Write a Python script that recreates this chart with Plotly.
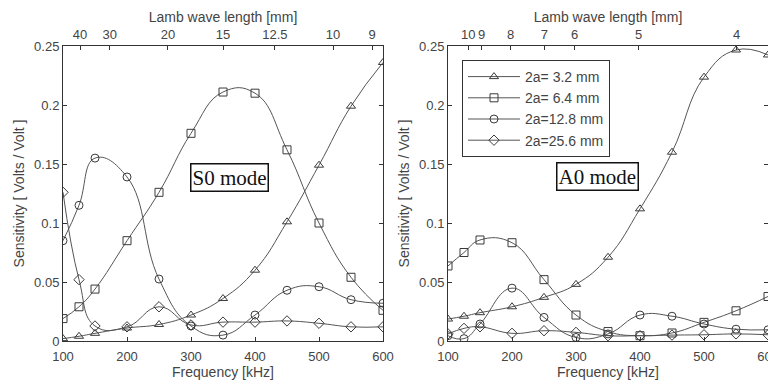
import plotly.graph_objects as go

freq = [100, 125, 150, 200, 250, 300, 350, 400, 450, 500, 550, 600]

# S0 mode sensitivities (Volts / Volt)
s0_32 = [0.002, 0.004, 0.0065, 0.011, 0.014, 0.022, 0.036, 0.060, 0.101, 0.149, 0.199, 0.236]
s0_64 = [0.019, 0.029, 0.044, 0.085, 0.126, 0.176, 0.211, 0.210, 0.162, 0.100, 0.054, 0.026]
s0_128 = [0.085, 0.115, 0.155, 0.139, 0.0525, 0.0127, 0.005, 0.022, 0.043, 0.046, 0.035, 0.032]
s0_256 = [0.126, 0.052, 0.0127, 0.012, 0.029, 0.0136, 0.016, 0.016, 0.017, 0.015, 0.012, 0.012]

# A0 mode sensitivities (Volts / Volt)
a0_32 = [0.0186, 0.021, 0.024, 0.029, 0.037, 0.048, 0.071, 0.112, 0.160, 0.2236, 0.2466, 0.2424]
a0_64 = [0.0636, 0.075, 0.0856, 0.0833, 0.052, 0.022, 0.008, 0.0045, 0.0068, 0.0158, 0.0256, 0.0377]
a0_128 = [0.0045, 0.002, 0.0144, 0.0448, 0.020, 0.003, 0.006, 0.022, 0.021, 0.0144, 0.010, 0.0095]
a0_256 = [0.006, 0.0107, 0.012, 0.0065, 0.0087, 0.0073, 0.0045, 0.0045, 0.005, 0.0053, 0.006, 0.0053]

series_names = ["2a= 3.2 mm", "2a= 6.4 mm", "2a=12.8 mm", "2a=25.6 mm"]
symbols = ["triangle-up-open", "square-open", "circle-open", "diamond-open"]

# Top axis: Lamb wave length labels and their frequency positions (kHz)
s0_wl_labels = ["40", "30", "20", "15", "12.5", "10", "9"]
s0_wl_freq = [126.6, 173, 264, 350, 431, 522, 583]
a0_wl_labels = ["10", "9", "8", "7", "6", "5", "4"]
a0_wl_freq = [131.7, 152.6, 198, 250.5, 298, 398, 551]

x_ticks = [100, 200, 300, 400, 500, 600]
y_ticks = [0, 0.05, 0.1, 0.15, 0.2, 0.25]
y_ticklabels = ["0", "0.05", "0.1", "0.15", "0.2", "0.25"]

LINE = "#555555"
MARK = "#3a3a3a"
TXT = "#444444"
AX = "#333333"
FONT = "Liberation Sans"

fig = go.Figure()

for i, vals in enumerate([s0_32, s0_64, s0_128, s0_256]):
    fig.add_trace(go.Scatter(
        x=freq, y=vals, xaxis="x", yaxis="y", mode="lines+markers",
        line=dict(color=LINE, width=1, shape="spline", smoothing=1.3),
        marker=dict(symbol=symbols[i], size=8, color=MARK, line=dict(width=1, color=MARK)),
        name=series_names[i], showlegend=False,
    ))

for i, vals in enumerate([a0_32, a0_64, a0_128, a0_256]):
    fig.add_trace(go.Scatter(
        x=freq, y=vals, xaxis="x2", yaxis="y2", mode="lines+markers",
        line=dict(color=LINE, width=1, shape="spline", smoothing=1.3),
        marker=dict(symbol=symbols[i], size=8, color=MARK, line=dict(width=1, color=MARK)),
        name=series_names[i], showlegend=True,
    ))

# invisible carriers so the top (wave length) axes are drawn
fig.add_trace(go.Scatter(x=s0_wl_freq, y=[None] * len(s0_wl_freq), xaxis="x3", yaxis="y",
                         mode="markers", showlegend=False, hoverinfo="skip"))
fig.add_trace(go.Scatter(x=a0_wl_freq, y=[None] * len(a0_wl_freq), xaxis="x4", yaxis="y2",
                         mode="markers", showlegend=False, hoverinfo="skip"))

tickfont = dict(family=FONT, size=13, color=TXT)
titlefont = dict(family=FONT, size=14, color=TXT)

def xbottom(domain, anchor):
    return dict(domain=domain, anchor=anchor, range=[100, 600], tickvals=x_ticks,
                ticks="inside", ticklen=4, tickcolor=AX, showline=True, linecolor=AX,
                linewidth=1, mirror=False, showgrid=False, zeroline=False, automargin=False,
                ticklabelstandoff=3, ticklabeloverflow="allow",
                tickfont=tickfont, title=dict(text="Frequency [kHz]", font=titlefont, standoff=0))

def yleft(anchor):
    return dict(anchor=anchor, range=[0, 0.25], tickvals=y_ticks, ticktext=y_ticklabels,
                ticks="inside", ticklen=4, tickcolor=AX, showline=True, linecolor=AX,
                linewidth=1, mirror="ticks", showgrid=False, zeroline=False, automargin=False,
                tickfont=tickfont, title=dict(text="Sensitivity [ Volts / Volt ]", font=titlefont, standoff=6))

def xtop(overlay, anchor, vals, labels):
    return dict(overlaying=overlay, anchor=anchor, side="top", range=[100, 600],
                tickvals=vals, ticktext=labels, ticks="inside", ticklen=4, tickcolor=AX,
                showline=True, linecolor=AX, linewidth=1, showgrid=False, zeroline=False,
                automargin=False, ticklabelstandoff=1,
                tickfont=tickfont, title=dict(text="Lamb wave length [mm]", font=titlefont, standoff=0))

d1 = [0, 320 / 705]
d2 = [385 / 705, 1]

# page body has an 8px margin, so the figure is sized/offset to compensate
fig.update_layout(
    width=768, height=377,
    margin=dict(l=55, r=8, t=38, b=44),
    paper_bgcolor="white", plot_bgcolor="white",
    xaxis=xbottom(d1, "y"),
    yaxis=yleft("x"),
    xaxis2=xbottom(d2, "y2"),
    yaxis2=yleft("x2"),
    xaxis3=xtop("x", "y", s0_wl_freq, s0_wl_labels),
    xaxis4=xtop("x2", "y2", a0_wl_freq, a0_wl_labels),
    legend=dict(x=(462 - 63) / 705, xanchor="left", y=(341 - 60) / 295, yanchor="top",
                xref="paper", yref="paper", itemwidth=52,
                bgcolor="white", bordercolor=AX, borderwidth=1,
                font=dict(family=FONT, size=14, color=TXT), tracegroupgap=0),
    showlegend=True,
)

fig.add_annotation(x=360, y=0.1386, xref="x", yref="y", text="S0 mode", showarrow=False,
                   font=dict(family="Liberation Serif", size=21, color="#111111"),
                   bordercolor="#111111", borderwidth=1.5, borderpad=1, bgcolor="white")
fig.add_annotation(x=334, y=0.1398, xref="x2", yref="y2", text="A0 mode", showarrow=False,
                   font=dict(family="Liberation Serif", size=21, color="#111111"),
                   bordercolor="#111111", borderwidth=1.5, borderpad=1, bgcolor="white")

fig.write_html("out.html")
